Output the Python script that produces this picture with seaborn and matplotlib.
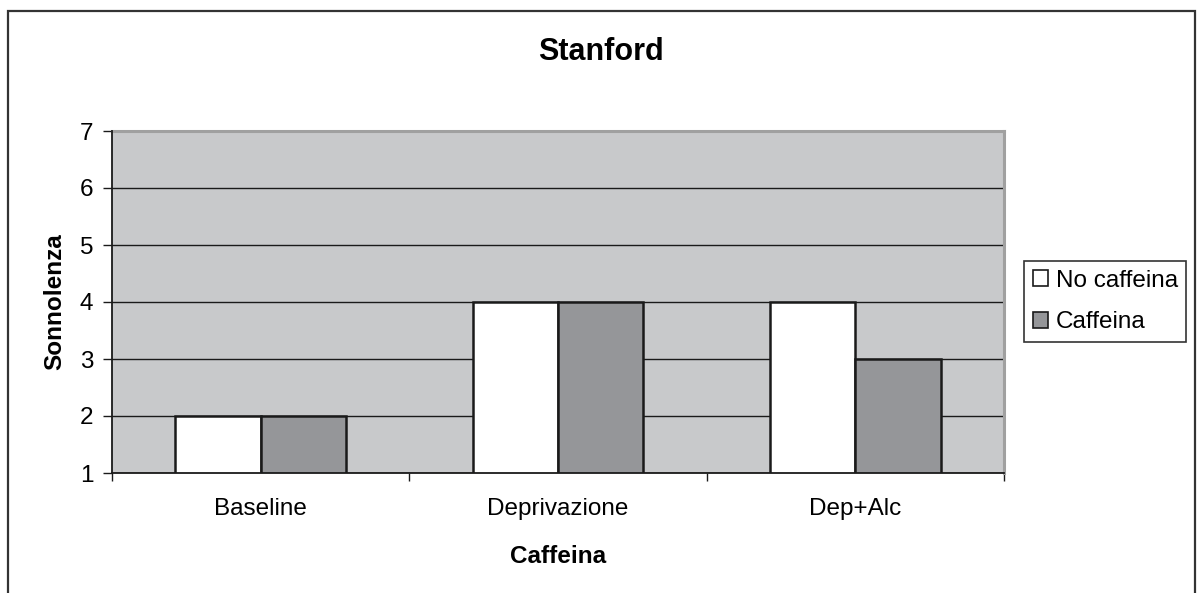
import matplotlib
matplotlib.use("Agg")
import matplotlib.pyplot as plt
from matplotlib.patches import Rectangle
import seaborn as sns
import pandas as pd

# Data
categories = ["Baseline", "Deprivazione", "Dep+Alc"]
series_names = ["No caffeina", "Caffeina"]
no_caffeina = [2, 4, 4]
caffeina = [2, 4, 3]
y_ticks = [1, 2, 3, 4, 5, 6, 7]

df = pd.DataFrame({
    "Caffeina": categories * 2,
    "Sonnolenza": no_caffeina + caffeina,
    "Gruppo": [series_names[0]] * 3 + [series_names[1]] * 3,
})

plt.rcParams["font.family"] = ["Liberation Sans", "DejaVu Sans"]

fig = plt.figure(figsize=(11.97, 5.93), dpi=100)
fig.patch.set_facecolor("white")
ax = fig.add_axes([112 / 1197, 1 - 473 / 593, (1004 - 112) / 1197, (473 - 131) / 593])
ax.set_facecolor("#c8c9cb")

palette = {"No caffeina": "#ffffff", "Caffeina": "#959699"}
sns.barplot(data=df, x="Caffeina", y="Sonnolenza", hue="Gruppo", order=categories,
            hue_order=series_names, palette=palette, width=0.575, saturation=1,
            edgecolor="#1a1a1a", linewidth=1.8, ax=ax, zorder=3, errorbar=None)

ax.set_ylim(1, 7)
ax.set_xlim(-0.5, 2.5)
ax.set_yticks(y_ticks)
ax.set_yticklabels([str(v) for v in y_ticks], fontsize=17.5)
ax.yaxis.grid(True, color="#1a1a1a", linewidth=1.0, zorder=1)
ax.set_axisbelow(True)

# Category labels centred, tick marks at category boundaries
ax.set_xticks(range(len(categories)))
ax.set_xticklabels(categories, fontsize=17.5)
ax.tick_params(axis="x", which="major", length=0, pad=18)
ax.set_xticks([-0.5, 0.5, 1.5, 2.5], minor=True)
ax.tick_params(axis="x", which="minor", length=6, width=1.0, color="#1a1a1a", direction="out")
ax.tick_params(axis="y", length=6.5, width=1.0, color="#1a1a1a", direction="out", pad=7)

for s in ["left", "bottom"]:
    ax.spines[s].set_color("#1a1a1a")
    ax.spines[s].set_linewidth(1.3)
    ax.spines[s].set_zorder(5)
for s in ["top", "right"]:
    ax.spines[s].set_color("#a0a0a0")
    ax.spines[s].set_linewidth(2.2)

ax.set_xlabel("Caffeina", fontsize=17.5, fontweight="bold", labelpad=18)
ax.set_ylabel("Sonnolenza", fontsize=17.5, fontweight="bold", labelpad=10)

fig.text(601 / 1197, 1 - 52 / 593, "Stanford", fontsize=22, fontweight="bold",
         ha="center", va="center")

handles, labels = ax.get_legend_handles_labels()
ax.legend(handles, labels, loc="center left",
          bbox_to_anchor=(1024 / 1197, 1 - 301.5 / 593), bbox_transform=fig.transFigure,
          fontsize=17.5, frameon=True, fancybox=False, edgecolor="#333333",
          framealpha=1, handlelength=0.65, handleheight=0.65, handletextpad=0.3,
          borderpad=0.35, labelspacing=0.8, borderaxespad=0)
leg = ax.get_legend()
leg.get_frame().set_linewidth(1.2)
for h in leg.legend_handles:
    h.set_edgecolor("#1a1a1a")
    h.set_linewidth(1.2)

# Chart area border
fig.patches.append(Rectangle((8 / 1197, -0.02), (1195 - 8) / 1197, 1.02 - 10.5 / 593,
                             transform=fig.transFigure, fill=False,
                             edgecolor="#333333", linewidth=1.6))

fig.savefig("out.png", dpi=100)
